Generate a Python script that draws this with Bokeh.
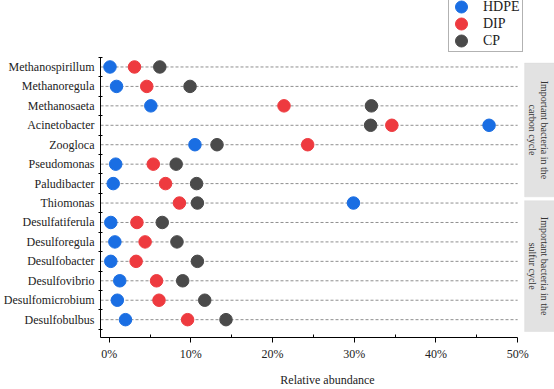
import math
from bokeh.plotting import figure
from bokeh.models import FixedTicker, BoxAnnotation, Label, Legend, LegendItem, ColumnDataSource
from bokeh.embed import file_html
from bokeh.resources import INLINE

categories = ["Methanospirillum", "Methanoregula", "Methanosaeta", "Acinetobacter", "Zoogloca",
              "Pseudomonas", "Paludibacter", "Thiomonas", "Desulfatiferula", "Desulforegula",
              "Desulfobacter", "Desulfovibrio", "Desulfomicrobium", "Desulfobulbus"]
hdpe = [0.1, 0.9, 5.1, 46.5, 10.5, 0.8, 0.5, 29.9, 0.2, 0.7, 0.2, 1.3, 1.0, 2.0]
dip = [3.1, 4.6, 21.4, 34.6, 24.3, 5.4, 6.9, 8.6, 3.4, 4.4, 3.3, 5.8, 6.1, 9.6]
cp = [6.2, 9.9, 32.1, 32.0, 13.2, 8.2, 10.7, 10.8, 6.5, 8.3, 10.8, 9.0, 11.7, 14.3]
series_names = ["HDPE", "DIP", "CP"]
x_ticks = [0, 10, 20, 30, 40, 50]
x_minor = [5, 15, 25, 35, 45]
group_labels = [("Important bacteria in the", "carbon cycle"), ("Important bacteria in the", "sulfur cycle")]
group_spans = [(14.2, 7.32), (7.12, 0.39)]

FONT = "Liberation Serif"
colors = ["#1a6ee3", "#ee3a3f", "#4a4a4a"]

n = len(categories)
ys = [n - i for i in range(n)]

X0, X1 = -1.06, 54.51
Y0, YTOP, Y1 = 0.082, 14.5, 17.42
p = figure(width=554, height=389, output_backend="svg", toolbar_location=None, title=None,
           x_range=(X0, X1), y_range=(Y0, Y1))
p.min_border_left = 98
p.min_border_right = 0
p.min_border_top = 0
p.min_border_bottom = 49
p.outline_line_color = None
p.xgrid.visible = False
p.ygrid.visible = False
p.background_fill_color = "white"
p.border_fill_color = "white"

# dashed guide lines
p.segment(x0=[X0] * n, x1=[x_ticks[-1]] * n, y0=ys, y1=ys,
          line_color="#8f8f8f", line_dash="3 2", line_width=1)

# group boxes
box_left = 50.85
for (top, bot), (l1, l2) in zip(group_spans, group_labels):
    p.add_layout(BoxAnnotation(left=box_left, right=X1, top=top, bottom=bot,
                               fill_color="#e2e2e2", fill_alpha=1.0,
                               line_color="#d2d2d2", line_width=1))
    cx = (box_left + X1) / 2
    cy = (top + bot) / 2
    for txt, off in ((l1, 5), (l2, -7)):
        p.add_layout(Label(x=cx, y=cy, x_offset=off, text=txt, angle=-math.pi / 2,
                           text_align="center", text_baseline="middle",
                           text_font=FONT, text_font_size="10px", text_color="#333333"))

items = []
for name, vals, c in zip(series_names, [hdpe, dip, cp], colors):
    src = ColumnDataSource(dict(x=vals, y=ys))
    r = p.ellipse("x", "y", source=src, width=12.5, height=12.5,
                  width_units="screen", height_units="screen",
                  fill_color=c, line_color=c)
    items.append(LegendItem(label=name, renderers=[r]))

# x axis
xa = p.xaxis[0]
xa.bounds = (X0, x_ticks[-1])
xa.ticker = FixedTicker(ticks=x_ticks, minor_ticks=x_minor)
xa.major_label_overrides = {t: f"{t}%" for t in x_ticks}
xa.major_tick_out = 5
xa.major_tick_in = 0
xa.minor_tick_in = 3
xa.minor_tick_out = 0
xa.axis_line_color = "black"
xa.major_tick_line_color = "black"
xa.minor_tick_line_color = "black"
xa.major_label_text_font = FONT
xa.major_label_text_font_size = "12px"
xa.major_label_text_color = "#222222"
xa.major_label_standoff = 4
xa.axis_label = "Relative abundance"
xa.axis_label_text_font = FONT
xa.axis_label_text_font_size = "12px"
xa.axis_label_text_font_style = "normal"
xa.axis_label_text_color = "#222222"
xa.axis_label_standoff = 9

# y axis
ya = p.yaxis[0]
ya.bounds = (Y0, YTOP)
ya.ticker = FixedTicker(ticks=ys, minor_ticks=[v + 0.5 for v in range(0, n + 1)])
ya.major_label_overrides = {y: c for y, c in zip(ys, categories)}
ya.major_tick_in = 0
ya.major_tick_out = 0
ya.minor_tick_in = 2
ya.minor_tick_out = 2
ya.minor_tick_line_color = "black"
ya.axis_line_color = "black"
ya.major_label_text_font = FONT
ya.major_label_text_font_size = "12px"
ya.major_label_text_color = "#222222"
ya.major_label_standoff = 4

legend = Legend(items=items, location=(348, 285), padding=2, spacing=0,
                glyph_height=15, glyph_width=20, label_height=17,
                label_text_font=FONT, label_text_font_size="14px", label_text_color="#222222",
                label_standoff=12, border_line_color="#666666", border_line_width=1,
                background_fill_color="white", background_fill_alpha=1.0, margin=0)
p.add_layout(legend)

open("out.html", "w").write(file_html(p, INLINE))
